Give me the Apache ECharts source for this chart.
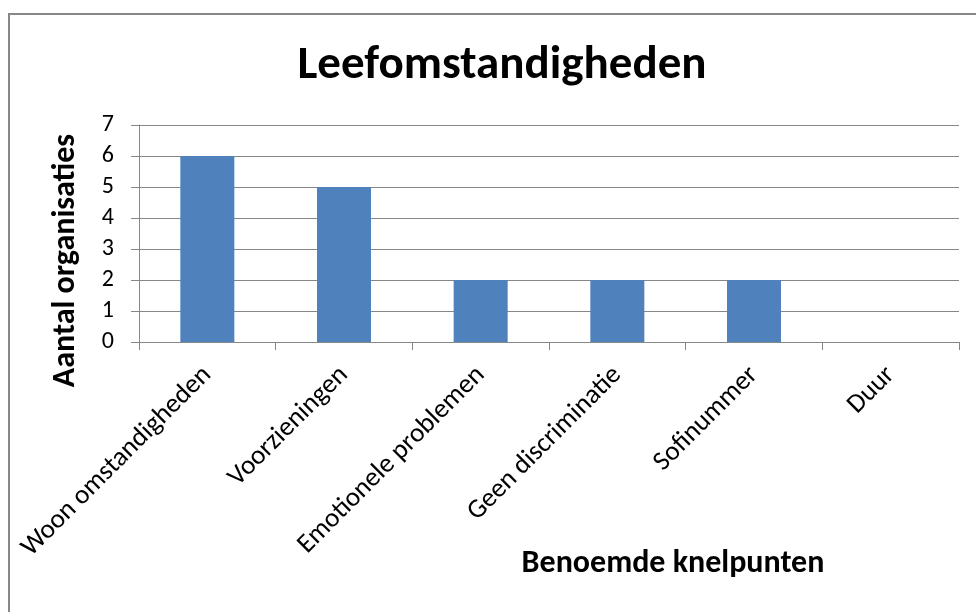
<!DOCTYPE html>
<html>
<head>
<meta charset="utf-8">
<script src="https://cdn.jsdelivr.net/npm/echarts@6/dist/echarts.min.js"></script>
<style>
  html, body { margin: 0; padding: 0; background: #fff; }
  #chart { width: 976px; height: 612px; }
</style>
</head>
<body>
<div id="chart"></div>
<script>
// Chart data
const categories = ['Woon omstandigheden', 'Voorzieningen', 'Emotionele problemen', 'Geen discriminatie', 'Sofinummer', 'Duur'];
const counts = [6, 5, 2, 2, 2, 0];
const yTicks = [0, 1, 2, 3, 4, 5, 6, 7];

const font = 'Carlito, "Open Sans", sans-serif';
const gray = '#878787';

const chart = echarts.init(document.getElementById('chart'), null, { renderer: 'canvas' });

chart.setOption({
  animation: false,
  backgroundColor: '#ffffff',
  title: {
    text: 'Leefomstandigheden',
    left: 497,
    top: 38,
    textAlign: 'center',
    textStyle: { fontFamily: font, fontSize: 47, fontWeight: 'bold', color: '#000' }
  },
  graphic: [{
    type: 'rect',
    shape: { x: 9, y: 14, width: 1000, height: 700 },
    style: { fill: 'none', stroke: gray, lineWidth: 2 },
    silent: true
  }],
  grid: { left: 139, right: 17, top: 125, bottom: 270 },
  xAxis: {
    type: 'category',
    data: categories,
    name: 'Benoemde knelpunten',
    nameLocation: 'middle',
    nameGap: 206,
    nameMoveOverlap: false,
    nameTextStyle: { fontFamily: font, fontSize: 32, fontWeight: 'bold', color: '#000', padding: [0, 0, 0, 248] },
    axisLine: { lineStyle: { color: gray, width: 1 } },
    axisTick: { show: true, alignWithLabel: false, length: 8, lineStyle: { color: gray } },
    axisLabel: { rotate: 45, margin: 29, fontFamily: font, fontSize: 27, color: '#000', interval: 0 }
  },
  yAxis: {
    type: 'value',
    min: yTicks[0],
    max: yTicks[yTicks.length - 1],
    interval: 1,
    name: 'Aantal organisaties',
    nameLocation: 'middle',
    nameGap: 57,
    nameRotate: 90,
    nameMoveOverlap: false,
    nameTextStyle: { fontFamily: font, fontSize: 32, fontWeight: 'bold', color: '#000', padding: [0, 54, 0, 0] },
    axisLine: { show: true, lineStyle: { color: gray, width: 1 } },
    axisTick: { show: true, length: 8, lineStyle: { color: gray } },
    axisLabel: { margin: 25, fontFamily: font, fontSize: 24, color: '#000' },
    splitLine: { lineStyle: { color: gray, width: 1 } }
  },
  series: [{
    type: 'bar',
    data: counts,
    barWidth: 54,
    itemStyle: { color: '#4F81BD' }
  }]
});
</script>
</body>
</html>
